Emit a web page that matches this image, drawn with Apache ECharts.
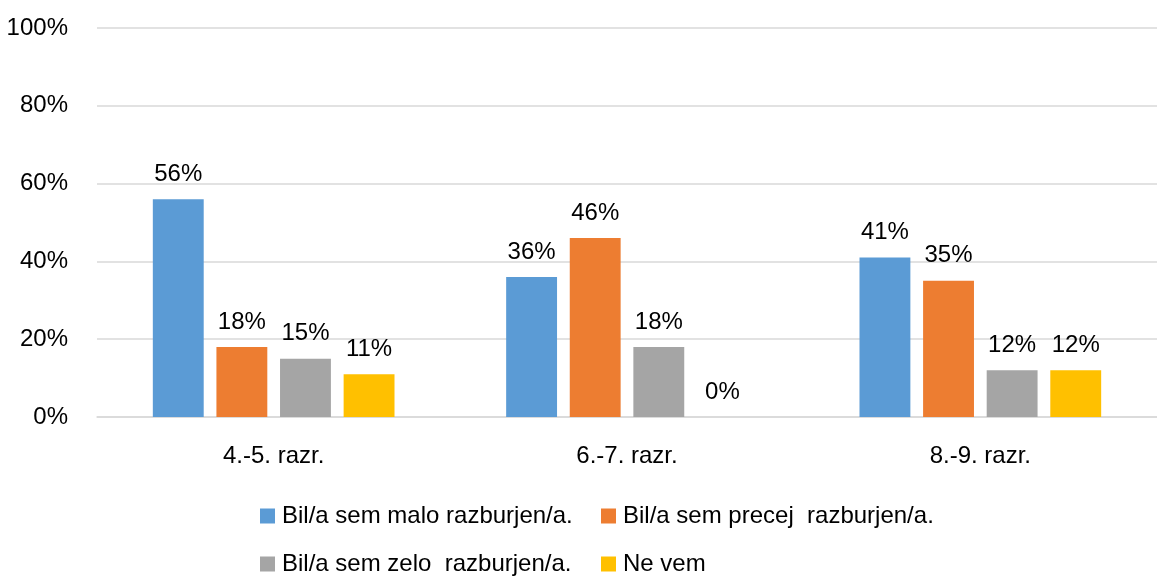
<!DOCTYPE html>
<html><head><meta charset="utf-8">
<script src="https://cdn.jsdelivr.net/npm/echarts@6/dist/echarts.min.js"></script>
<style>html,body{margin:0;padding:0;background:#fff}#c{width:1157px;height:576px}</style>
</head><body><div id="c"></div>
<script>
const categories = ['4.-5. razr.', '6.-7. razr.', '8.-9. razr.'];
const seriesNames = ['Bil/a sem malo razburjen/a.', 'Bil/a sem precej  razburjen/a.', 'Bil/a sem zelo  razburjen/a.', 'Ne vem'];
const maloValues = [56, 36, 41];
const precejValues = [18, 46, 35];
const zeloValues = [15, 18, 12];
const neVemValues = [11, 0, 12];
const colors = ['#5B9BD5', '#ED7D31', '#A5A5A5', '#FFC000'];

const FONT = "'Liberation Sans', Arial, sans-serif";
const FS = 24;
const allValues = [maloValues, precejValues, zeloValues, neVemValues];
const legendPos = [[260, 504], [601, 504], [260, 552], [601, 552]];

const chart = echarts.init(document.getElementById('c'));
chart.setOption({
  animation: false,
  textStyle: { fontFamily: FONT },
  grid: { left: 97, right: -3, top: 28, bottom: 159, containLabel: false },
  legend: seriesNames.map((n, i) => ({
    data: [n], left: legendPos[i][0], top: legendPos[i][1], padding: 0,
    itemWidth: 15, itemHeight: 15, icon: 'rect',
    textStyle: { fontFamily: FONT, fontSize: FS, color: '#000', padding: [0, 0, 0, 2] }
  })),
  xAxis: {
    type: 'category', data: categories,
    axisLine: { show: true, lineStyle: { color: '#d9d9d9', width: 1.5 } },
    axisTick: { show: false },
    axisLabel: { fontFamily: FONT, fontSize: FS, color: '#000', margin: 27 }
  },
  yAxis: {
    type: 'value', min: 0, max: 100, interval: 20,
    axisLine: { show: false }, axisTick: { show: false },
    splitLine: { lineStyle: { color: '#d9d9d9', width: 1.5 } },
    axisLabel: { fontFamily: FONT, fontSize: FS, color: '#000', margin: 29, formatter: '{value}%', padding: [6, 0, 0, 0] }
  },
  series: seriesNames.map((n, i) => ({
    name: n, type: 'bar', data: allValues[i],
    barWidth: '14.4%', barGap: '25%', barCategoryGap: '30%',
    itemStyle: { color: colors[i] },
    label: { show: true, position: 'top', distance: 13, formatter: '{c}%',
      fontFamily: FONT, fontSize: FS, color: '#000' }
  }))
});
</script></body></html>
